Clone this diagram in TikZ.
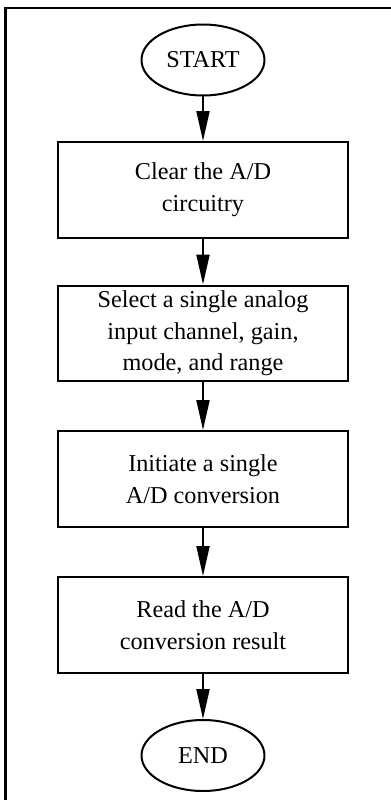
\documentclass[tikz,border=0pt]{standalone}
\usepackage{fontspec}
\setmainfont{Liberation Serif}
\usetikzlibrary{shapes.geometric, arrows.meta}

\begin{document}
\begin{tikzpicture}[x=0.02cm, y=-0.02cm,
  proc/.style={draw, line width=0.04cm, minimum width=5.82cm, minimum height=1.92cm, align=center, inner sep=0pt},
  term/.style={draw, ellipse, line width=0.04cm, minimum width=2.46cm, minimum height=1.42cm, inner sep=0pt},
  flow/.style={line width=0.04cm, -{Triangle[length=0.6cm, width=0.26cm]}}]
  \useasboundingbox (0, 0) rectangle (391, 800);
  \fontsize{13.8}{18}\selectfont

  % Frame (top and left edges only)
  \draw[line width=0.05cm] (391, 8) -- (5.3, 8) -- (5.3, 800);

  % Steps
  \node[term] (start) at (203, 60) {START};
  \node[proc] (clear) at (203, 190) {Clear the A/D\\circuitry};
  \node[proc] (select) at (203, 333.5) {Select a single analog\\input channel, gain,\\mode, and range};
  \node[proc] (convert) at (203, 479) {Initiate a single\\A/D conversion};
  \node[proc] (read) at (203, 625) {Read the A/D\\conversion result};
  \node[term] (stop) at (203, 755.5) {END};

  % Flow
  \draw[flow] (start) -- (clear);
  \draw[flow] (clear) -- (select);
  \draw[flow] (select) -- (convert);
  \draw[flow] (convert) -- (read);
  \draw[flow] (read) -- (stop);
\end{tikzpicture}
\end{document}
